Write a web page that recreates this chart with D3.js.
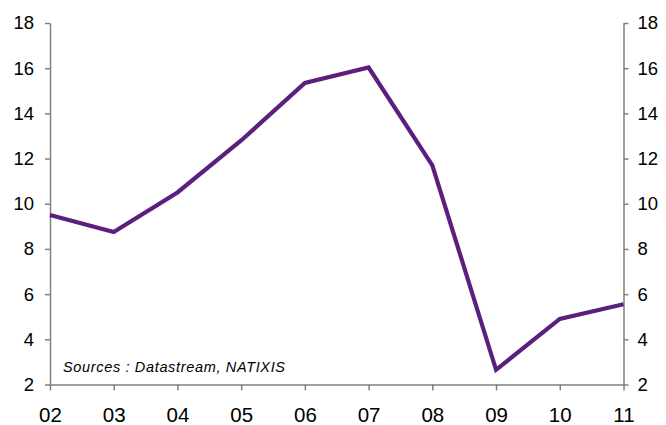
<!DOCTYPE html>
<html><head><meta charset="utf-8">
<script src="https://cdn.jsdelivr.net/npm/d3@7"></script>
<style>body{margin:0;background:#fff}svg{display:block}</style>
</head><body>
<svg id="c" width="666" height="425"></svg>
<script>
const years = ["02","03","04","05","06","07","08","09","10","11"];
const values = [9.5, 8.75, 10.5, 12.8, 15.35, 16.03, 11.7, 2.65, 4.9, 5.55];
const yTicks = [2,4,6,8,10,12,14,16,18];
const sourceText = "Sources : Datastream, NATIXIS";

(function(){
const svg = d3.select("#c");
const mLeft = 50, mRight = 623.5, mTop = 23, mBottom = 384.5;
const x = d3.scalePoint().domain(years).range([mLeft, mRight]);
const y = d3.scaleLinear().domain([2,18]).range([mBottom, mTop]);
const font = "Arial, 'Liberation Sans', sans-serif";
const axisColor = "#808080";

function styleAxis(size){
  return function(g){
    g.select(".domain").attr("stroke", axisColor).attr("stroke-width", 1.5);
    g.selectAll(".tick line").attr("stroke", axisColor).attr("stroke-width", 1.5);
    g.selectAll(".tick text").attr("fill", "#000").style("font-family", font).style("font-size", size);
  };
}

svg.append("g").attr("transform", `translate(${mLeft},0)`)
  .call(d3.axisLeft(y).tickValues(yTicks).tickSize(5).tickSizeOuter(0).tickPadding(11))
  .call(styleAxis("18.5px"));
svg.append("g").attr("transform", `translate(${mRight},0)`)
  .call(d3.axisRight(y).tickValues(yTicks).tickSize(5).tickSizeOuter(0).tickPadding(9))
  .call(styleAxis("18.5px"));
svg.append("g").attr("transform", `translate(0,${mBottom})`)
  .call(d3.axisBottom(x).tickSize(6).tickSizeOuter(0).tickPadding(17))
  .call(styleAxis("20.5px"));

svg.append("path")
  .datum(values)
  .attr("fill", "none")
  .attr("stroke", "#5b1f7d")
  .attr("stroke-width", 4.2)
  .attr("stroke-linejoin", "miter")
  .attr("d", d3.line().x((d,i)=>x(years[i])).y(d=>y(d)));

svg.append("text")
  .attr("x", 63).attr("y", 372)
  .attr("textLength", 222).attr("lengthAdjust", "spacing")
  .style("font-family", font).style("font-size", "14.5px").style("font-style", "italic")
  .text(sourceText);
})();
</script>
</body></html>
